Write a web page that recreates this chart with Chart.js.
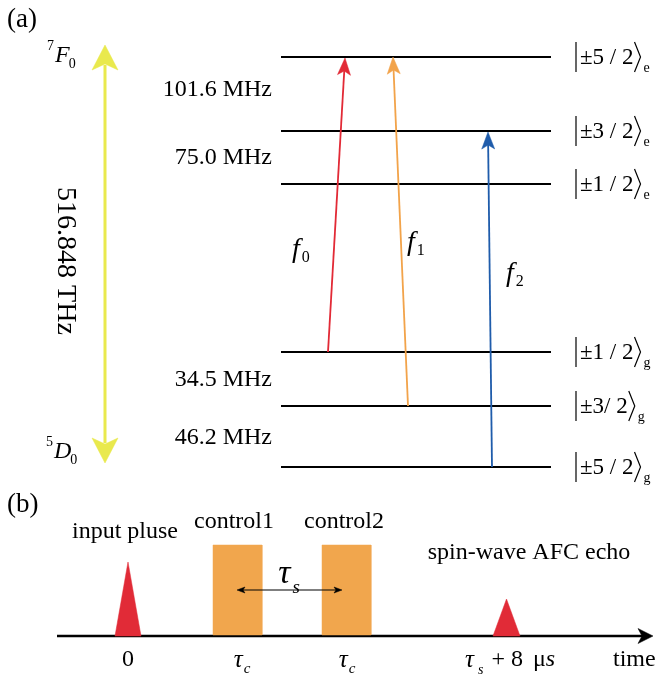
<!DOCTYPE html>
<html><head><meta charset="utf-8">
<script src="https://cdn.jsdelivr.net/npm/chart.js@4/dist/chart.umd.min.js"></script>
<style>html,body{margin:0;padding:0;background:#fff;}canvas{display:block;}</style>
</head><body>
<canvas id="c" width="660" height="684"></canvas>
<script>
// ---------- (a) level diagram ----------
const levelKets = ['±5 / 2', '±3 / 2', '±1 / 2', '±1 / 2', '±3/ 2', '±5 / 2'];
const levelSubs = ['e', 'e', 'e', 'g', 'g', 'g'];
const levelY = [57, 131, 184, 352, 406, 467];
const levelX = [281, 551];
const splitLabels = ['101.6 MHz', '75.0 MHz', '34.5 MHz', '46.2 MHz'];
const splitLabelY = [90, 158, 380, 438];
const transSubs = ['0', '1', '2'];
const transFrom = [[328, 352], [408, 406], [492, 467]];
const transTo = [[345, 58], [393, 57], [488, 132]];
const transColors = ['#e22a36', '#f2a34a', '#1f5cab'];
const transLabelPos = [[292, 250], [407, 243], [506, 274]];
const opticalLabel = '516.848 THz';
const opticalArrow = [[105, 45], [105, 463]];
const termLabels = [['7', 'F', '0'], ['5', 'D', '0']];
const termPos = [[47, 56], [46, 452]];
// ---------- (b) pulse sequence ----------
const timeAxis = [[57, 636], [653, 636]];
const pulseNames = ['input pluse', 'control1', 'control2', 'spin-wave AFC echo'];
const pulseNamePos = [[125, 532], [234, 522], [344, 522], [529, 553]];
const triPulses = [[115, 141, 562], [493, 520, 599]]; // [left, right, apexY]
const ctrlPulses = [[213, 262, 545], [322, 371, 545]]; // [left, right, topY]
const spinGap = [[237, 590], [342, 590]];
const tickLabelX = [128, 242, 347, 0];

const C = {yellow: '#e9e94d', red: '#e12b37', orange: '#f1a64d', black: '#000'};
const SERIF = '"Liberation Serif","Times New Roman",serif';

function P(x, y) { return {x: x, y: y}; }
function seg(a, b, color, w) {
  return {data: [P(a[0], a[1]), P(b[0], b[1])], showLine: true, borderColor: color, borderWidth: w,
    pointRadius: 0, borderCapStyle: 'butt', fill: false};
}
function shape(pts, color) {
  const d = pts.map(p => P(p[0], p[1])); d.push(P(pts[0][0], pts[0][1]));
  return {data: d, showLine: true, borderColor: color, borderWidth: 0.5, pointRadius: 0,
    fill: 'shape', backgroundColor: color};
}
function arrowHead(from, tip, L, W, notch) {
  const dx = tip[0] - from[0], dy = tip[1] - from[1], len = Math.hypot(dx, dy);
  const ux = dx / len, uy = dy / len, nx = -uy, ny = ux;
  const bx = tip[0] - L * ux, by = tip[1] - L * uy;
  return [tip, [bx + nx * W / 2, by + ny * W / 2], [tip[0] - (L - notch) * ux, tip[1] - (L - notch) * uy],
    [bx - nx * W / 2, by - ny * W / 2]];
}
function shorten(from, tip, d) {
  const dx = tip[0] - from[0], dy = tip[1] - from[1], len = Math.hypot(dx, dy);
  return [tip[0] - d * dx / len, tip[1] - d * dy / len];
}

const datasets = [];
levelY.forEach(y => datasets.push(seg([levelX[0], y], [levelX[1], y], C.black, 2)));
transFrom.forEach((f, i) => {
  datasets.push(seg(f, shorten(f, transTo[i], 12), transColors[i], 1.8));
  datasets.push(shape(arrowHead(f, transTo[i], 17, 13, 4), transColors[i]));
});
// optical double arrow
datasets.push(seg(shorten(opticalArrow[1], opticalArrow[0], 20), shorten(opticalArrow[0], opticalArrow[1], 20), C.yellow, 3));
datasets.push(shape(arrowHead(opticalArrow[1], opticalArrow[0], 25, 26, 6), C.yellow));
datasets.push(shape(arrowHead(opticalArrow[0], opticalArrow[1], 25, 26, 6), C.yellow));
// time axis
datasets.push(seg(timeAxis[0], shorten(timeAxis[0], timeAxis[1], 10), C.black, 2.5));
datasets.push(shape(arrowHead(timeAxis[0], timeAxis[1], 15, 15, 4), C.black));
// pulses
triPulses.forEach(t => datasets.push(shape([[t[0], timeAxis[0][1]], [(t[0] + t[1]) / 2, t[2]], [t[1], timeAxis[0][1]]], C.red)));
ctrlPulses.forEach(r => datasets.push(shape([[r[0], timeAxis[0][1] - 1], [r[0], r[2]], [r[1], r[2]], [r[1], timeAxis[0][1] - 1]], C.orange)));
// tau_s double arrow
datasets.push(seg(shorten(spinGap[1], spinGap[0], 6), shorten(spinGap[0], spinGap[1], 6), C.black, 1.2));
datasets.push(shape(arrowHead(spinGap[1], spinGap[0], 8, 6, 2), C.black));
datasets.push(shape(arrowHead(spinGap[0], spinGap[1], 8, 6, 2), C.black));
// later datasets drawn on top
datasets.forEach((d, i) => { d.order = datasets.length - i; });

function font(size, italic) { return (italic ? 'italic ' : '') + size + 'px ' + SERIF; }
function runs(ctx, x, y, parts, align) {
  let total = 0;
  parts.forEach(p => { ctx.font = font(p.size, p.italic); p.w = ctx.measureText(p.t).width; total += p.w + (p.gap || 0); });
  let cx = align === 'right' ? x - total : align === 'center' ? x - total / 2 : x;
  ctx.textBaseline = 'middle'; ctx.textAlign = 'left';
  parts.forEach(p => { cx += (p.gap || 0); ctx.font = font(p.size, p.italic); ctx.fillText(p.t, cx, y + (p.dy || 0)); cx += p.w; });
}

const textPlugin = {
  id: 'texts',
  beforeDraw(chart) { const c = chart.ctx; c.save(); c.fillStyle = '#fff'; c.fillRect(0, 0, chart.width, chart.height); c.restore(); },
  afterDatasetsDraw(chart) {
    const ctx = chart.ctx, sx = chart.scales.x, sy = chart.scales.y;
    const X = v => sx.getPixelForValue(v), Y = v => sy.getPixelForValue(v);
    ctx.save(); ctx.fillStyle = '#000'; ctx.strokeStyle = '#000';
    runs(ctx, X(7), Y(20), [{t: '(a)', size: 27}], 'left');
    runs(ctx, X(7), Y(505), [{t: '(b)', size: 27}], 'left');
    // terms
    termLabels.forEach((t, i) => {
      const p = termPos[i];
      runs(ctx, X(p[0]), Y(p[1]), [{t: t[0], size: 14, dy: -10}, {t: t[1], size: 24, italic: true, gap: 1}, {t: t[2], size: 14, dy: 8, gap: -1}], 'left');
    });
    // splittings
    splitLabels.forEach((s, i) => runs(ctx, X(272), Y(splitLabelY[i]), [{t: s, size: 24}], 'right'));
    // kets
    levelKets.forEach((k, i) => {
      const y = Y(levelY[i]), x0 = X(576);
      ctx.lineWidth = 1.2;
      ctx.beginPath(); ctx.moveTo(x0, y - 15); ctx.lineTo(x0, y + 15); ctx.stroke();
      ctx.font = font(23, false);
      const w = ctx.measureText(k).width;
      runs(ctx, x0 + 4, y + 1, [{t: k, size: 23}], 'left');
      const bx = x0 + 5 + w;
      ctx.beginPath(); ctx.moveTo(bx, y - 15); ctx.lineTo(bx + 6, y); ctx.lineTo(bx, y + 15); ctx.stroke();
      runs(ctx, bx + 9, y + 11, [{t: levelSubs[i], size: 14}], 'left');
    });
    // transition labels
    transSubs.forEach((s, i) => {
      const p = transLabelPos[i];
      runs(ctx, X(p[0]), Y(p[1]), [{t: 'f', size: 28, italic: true}, {t: s, size: 16, dy: 8, gap: 2}], 'left');
    });
    // optical frequency (rotated)
    ctx.save(); ctx.translate(X(65), Y(261)); ctx.rotate(Math.PI / 2);
    ctx.font = font(28, false); ctx.textAlign = 'center'; ctx.textBaseline = 'middle';
    ctx.fillText(opticalLabel, 0, 0); ctx.restore();
    // pulse names
    pulseNames.forEach((n, i) => runs(ctx, X(pulseNamePos[i][0]), Y(pulseNamePos[i][1]), [{t: n, size: 24}], 'center'));
    // tau_s
    runs(ctx, X(289), Y(574), [{t: 'τ', size: 34, italic: true}, {t: 's', size: 19, italic: true, dy: 14, gap: 2}], 'center');
    // tick labels
    const ty = Y(660);
    runs(ctx, X(tickLabelX[0]), ty, [{t: '0', size: 24}], 'center');
    runs(ctx, X(tickLabelX[1]), ty, [{t: 'τ', size: 25, italic: true}, {t: 'c', size: 15, italic: true, dy: 9, gap: 1}], 'center');
    runs(ctx, X(tickLabelX[2]), ty, [{t: 'τ', size: 25, italic: true}, {t: 'c', size: 15, italic: true, dy: 9, gap: 1}], 'center');
    runs(ctx, X(465), ty, [{t: 'τ', size: 25, italic: true}, {t: 's', size: 14, italic: true, dy: 10, gap: 4},
      {t: '+ 8', size: 24, gap: 8}, {t: 'μ', size: 24, gap: 10}, {t: 's', size: 24, italic: true}], 'left');
    runs(ctx, X(613), ty, [{t: 'time', size: 24}], 'left');
    ctx.restore();
  }
};

new Chart(document.getElementById('c'), {
  type: 'scatter',
  data: {datasets: datasets},
  options: {
    responsive: false, animation: false, events: [],
    layout: {padding: 0},
    plugins: {legend: {display: false}, tooltip: {enabled: false}, title: {display: false}},
    scales: {
      x: {type: 'linear', min: 0, max: 660, display: false},
      y: {type: 'linear', min: 0, max: 684, reverse: true, display: false}
    }
  },
  plugins: [textPlugin]
});
</script>
</body></html>
